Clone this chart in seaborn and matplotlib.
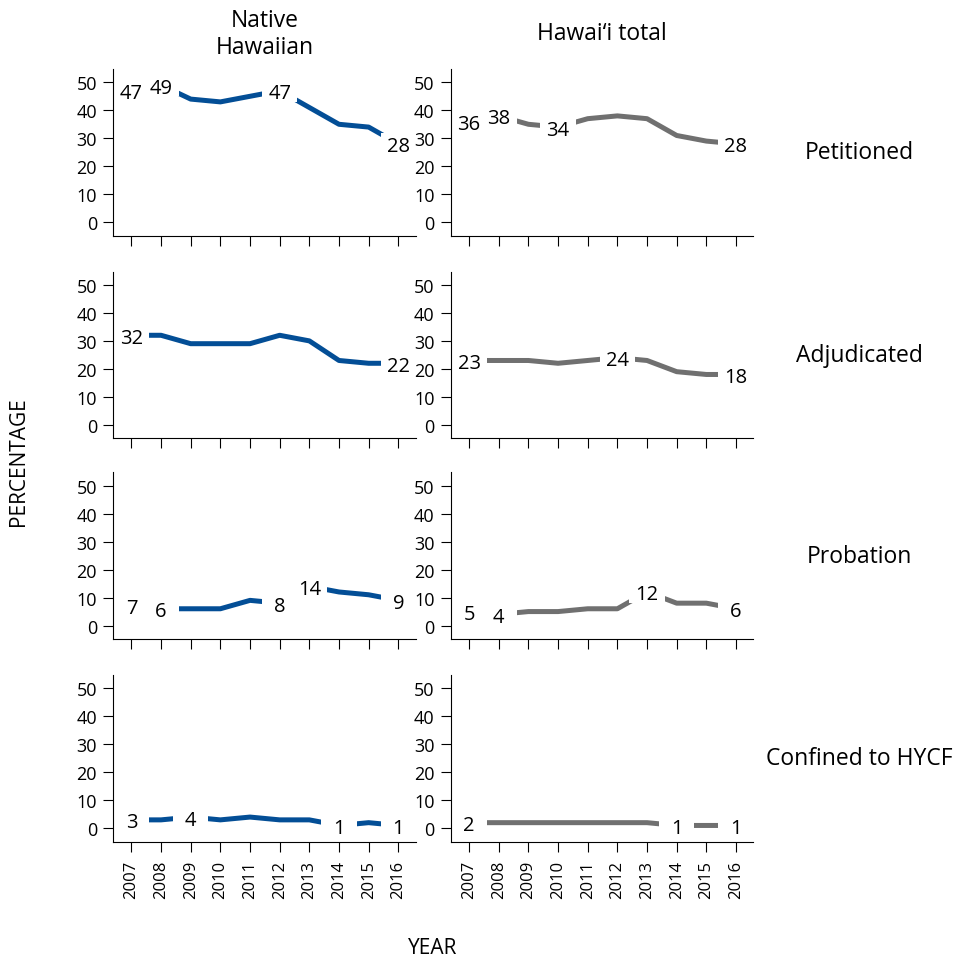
import matplotlib
matplotlib.use("Agg")
import matplotlib.pyplot as plt
from matplotlib.patches import Rectangle
import pandas as pd
import seaborn as sns

# ---- data -------------------------------------------------------------
years = list(range(2007, 2017))
stages = ["Petitioned", "Adjudicated", "Probation", "Confined to HYCF"]
groups = ["Native\nHawaiian", "Hawai\u2018i total"]

native_petitioned = [47, 49, 44, 43, 45, 47, 41, 35, 34, 28]
native_adjudicated = [32, 32, 29, 29, 29, 32, 30, 23, 22, 22]
native_probation = [7, 6, 6, 6, 9, 8, 14, 12, 11, 9]
native_confined = [3, 3, 4, 3, 4, 3, 3, 1, 2, 1]

total_petitioned = [36, 38, 35, 34, 37, 38, 37, 31, 29, 28]
total_adjudicated = [23, 23, 23, 22, 23, 24, 23, 19, 18, 18]
total_probation = [5, 4, 5, 5, 6, 6, 12, 8, 8, 6]
total_confined = [2, 2, 2, 2, 2, 2, 2, 1, 1, 1]

# years whose value is written on the line
native_petitioned_lab = [2007, 2008, 2012, 2016]
native_adjudicated_lab = [2007, 2016]
native_probation_lab = [2007, 2008, 2012, 2013, 2016]
native_confined_lab = [2007, 2009, 2014, 2016]
total_petitioned_lab = [2007, 2008, 2010, 2016]
total_adjudicated_lab = [2007, 2012, 2016]
total_probation_lab = [2007, 2008, 2013, 2016]
total_confined_lab = [2007, 2014, 2016]

series = {
    (groups[0], stages[0]): (native_petitioned, native_petitioned_lab),
    (groups[0], stages[1]): (native_adjudicated, native_adjudicated_lab),
    (groups[0], stages[2]): (native_probation, native_probation_lab),
    (groups[0], stages[3]): (native_confined, native_confined_lab),
    (groups[1], stages[0]): (total_petitioned, total_petitioned_lab),
    (groups[1], stages[1]): (total_adjudicated, total_adjudicated_lab),
    (groups[1], stages[2]): (total_probation, total_probation_lab),
    (groups[1], stages[3]): (total_confined, total_confined_lab),
}

rows = []
for (g, s), (vals, labs) in series.items():
    for y, v in zip(years, vals):
        rows.append(dict(group=g, stage=s, year=y, value=v, labelled=y in labs))
df = pd.DataFrame(rows)

# ---- style ------------------------------------------------------------
sns.set_theme(style="ticks")
plt.rcParams["font.family"] = ["Open Sans", "DejaVu Sans"]
plt.rcParams["axes.linewidth"] = 0.8
plt.rcParams["text.color"] = "black"

colors = {groups[0]: "#034E96", groups[1]: "#707070"}

# white knock-out behind each value label (years, percentage points)
KNOCK_HALF_W = 0.6
KNOCK_HALF_H = 4.0

W, H = 958, 962
fig = plt.figure(figsize=(W / 100, H / 100), dpi=100)

col_left = [113, 450.7]
col_width = 302.5
row_bottom = [236.7, 439.3, 640.0, 842.7]
row_height = 166.7

for ri, stage in enumerate(stages):
    for ci, group in enumerate(groups):
        ax = fig.add_axes([col_left[ci] / W, 1 - row_bottom[ri] / H,
                           col_width / W, row_height / H])
        ax.set_axisbelow(False)
        sub = df[(df.stage == stage) & (df.group == group)]
        sns.lineplot(data=sub, x="year", y="value", ax=ax, color=colors[group],
                     linewidth=3.6, errorbar=None, solid_capstyle="butt", zorder=1.8)
        for r in sub[sub.labelled].itertuples():
            ax.add_patch(Rectangle((r.year - KNOCK_HALF_W, r.value - KNOCK_HALF_H),
                                   2 * KNOCK_HALF_W, 2 * KNOCK_HALF_H,
                                   facecolor="white", edgecolor="none", zorder=2.0,
                                   clip_on=False))
            ax.text(r.year, r.value, f"{r.value}", ha="center", va="center_baseline",
                    fontsize=14.5, zorder=2.1, clip_on=False)
        ax.set_xlim(2006.38, 2016.58)
        ax.set_ylim(-4.8, 54.75)
        ax.set_xticks(years)
        ax.set_yticks([0, 10, 20, 30, 40, 50])
        ax.set_xlabel("")
        ax.set_ylabel("")
        sns.despine(ax=ax)
        for sp in ("left", "bottom"):
            ax.spines[sp].set_color("black")
            ax.spines[sp].set_linewidth(0.8)
            ax.spines[sp].set_zorder(3)
        ax.tick_params(axis="both", direction="out", length=7, width=0.8,
                       color="black", labelcolor="black")
        ax.tick_params(axis="y", labelsize=13, pad=4.5)
        if ri == len(stages) - 1:
            ax.tick_params(axis="x", labelsize=12, pad=6, labelrotation=90)
        else:
            ax.tick_params(axis="x", labelbottom=False)

# column headers
fig.text(264.5 / W, 1 - 34.5 / H, groups[0], ha="center", va="center",
         fontsize=16.5, linespacing=1.2)
fig.text(601.7 / W, 1 - 34.5 / H, groups[1], ha="center", va="center", fontsize=16.5)

# row headers
for ri, stage in enumerate(stages):
    yc = row_bottom[ri] - row_height / 2
    fig.text(859 / W, 1 - yc / H, stage, ha="center", va="center", fontsize=16.5)

fig.text(19 / W, 1 - 462 / H, "PERCENTAGE", rotation=90, ha="center",
         va="center", fontsize=15)
fig.text(433 / W, 1 - 949 / H, "YEAR", ha="center", va="center", fontsize=15)

fig.savefig("out.png", dpi=100, facecolor="white")
